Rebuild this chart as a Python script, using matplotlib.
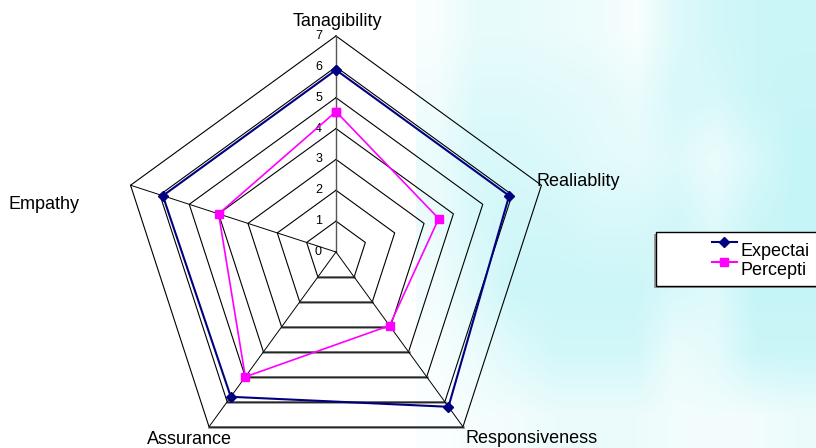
import numpy as np
import matplotlib
matplotlib.use("Agg")
import matplotlib.pyplot as plt
from matplotlib.colors import LinearSegmentedColormap
from matplotlib.lines import Line2D
from matplotlib.patches import Rectangle

categories = ["Tanagibility", "Realiablity", "Responsiveness", "Assurance", "Empathy"]
expectation = [5.9, 5.9, 6.2, 5.8, 5.9]
perception = [4.55, 3.5, 2.95, 5.0, 4.0]
ring_levels = [1, 2, 3, 4, 5, 6, 7]
tick_labels = ["0", "1", "2", "3", "4", "5", "6", "7"]
legend_labels = ["Expectai", "Percepti"]   # as visible (legend runs off the edge)

# coarse cyan wash behind the right half (0 = white, 1 = full cyan)
bg_shade = np.array([
    [0.10, 0.35, 0.35, 0.30, 0.25, 0.10, 0.50, 0.70, 0.80, 0.80],
    [0.20, 0.50, 0.50, 0.45, 0.40, 0.30, 0.60, 0.60, 0.80, 0.85],
    [0.30, 0.60, 0.60, 0.55, 0.45, 0.40, 0.50, 0.30, 0.60, 0.90],
    [0.30, 0.60, 0.70, 0.70, 0.60, 0.60, 0.70, 0.50, 0.80, 0.90],
    [0.20, 0.50, 0.80, 0.80, 0.80, 0.80, 0.60, 0.50, 0.90, 0.90],
    [0.10, 0.30, 0.50, 0.70, 0.70, 0.70, 0.30, 0.40, 0.80, 0.80],
    [0.05, 0.15, 0.20, 0.30, 0.30, 0.30, 0.20, 0.20, 0.20, 0.30],
])

W, H = 816, 448
CX, CY = 336, 252      # chart centre, pixels from top-left
PX = 30.86             # pixels per unit

plt.rcParams["font.family"] = ["Liberation Sans", "DejaVu Sans"]

fig = plt.figure(figsize=(W / 100, H / 100), dpi=100)
fig.patch.set_facecolor("white")

bg = fig.add_axes([0, 0, 1, 1], zorder=0)
bg.set_xlim(0, W)
bg.set_ylim(H, 0)
bg.axis("off")
cmap = LinearSegmentedColormap.from_list("wash", ["#ffffff", "#bff4f6"])
bg.imshow(bg_shade, cmap=cmap, vmin=0, vmax=1, extent=(416, W, H, 0),
          interpolation="bilinear", aspect="auto")

ax = fig.add_axes([0, 0, 1, 1], zorder=1)
ax.set_xlim(-CX / PX, (W - CX) / PX)
ax.set_ylim(-(H - CY) / PX, CY / PX)
ax.axis("off")
ax.patch.set_alpha(0)

n = len(categories)
ang = np.deg2rad(90 - 72 * np.arange(n))
ang_closed = np.append(ang, ang[0])

# rings
for r in ring_levels:
    xs = r * np.cos(ang_closed)
    ys = r * np.sin(ang_closed)
    ax.plot(xs, ys, color="black", lw=0.8, zorder=2)
    # bottom edge (Responsiveness -> Assurance) rendered doubled/grey
    ax.plot(xs[2:4], ys[2:4], color="#808080", lw=1.8, zorder=2)
    ax.plot(xs[2:4], ys[2:4], color="black", lw=0.5, zorder=2)

# spokes (Realiablity spoke not drawn in the original)
for i in [0, 2, 3, 4]:
    top = ring_levels[-1]
    ax.plot([0, top * np.cos(ang[i])], [0, top * np.sin(ang[i])],
            color="#555555" if i == 0 else "black",
            lw=1.0 if i == 0 else 0.7, zorder=2)

for lvl, lab in enumerate(tick_labels):
    ax.text(-14 / PX, lvl, lab, ha="right", va="center", fontsize=9, zorder=3)

exp_c = np.append(expectation, expectation[0])
per_c = np.append(perception, perception[0])
ax.plot(exp_c * np.cos(ang_closed), exp_c * np.sin(ang_closed),
        color="#000080", lw=1.5, marker="D", ms=5, zorder=4)
ax.plot(per_c * np.cos(ang_closed), per_c * np.sin(ang_closed),
        color="#ff00ff", lw=1.2, marker="s", ms=6, zorder=4)


def px(x, y):
    """pixel position (from top-left) -> data units"""
    return (x - CX) / PX, (CY - y) / PX


label_pos = [
    (337, 26, "center"),
    (537, 186, "left"),
    (466, 443, "left"),
    (147, 444, "left"),
    (9, 209, "left"),
]
for name, (lx, ly, ha) in zip(categories, label_pos):
    ax.text(*px(lx, ly), name, ha=ha, va="baseline", fontsize=13, zorder=3)

# legend box (runs off the right edge as in the original)
lx0, ly0, ly1 = 656, 232, 286
ax.add_patch(Rectangle(px(lx0 - 1.5, ly1 + 1.5), 200 / PX, (ly1 - ly0) / PX,
                       facecolor="#9a9a9a", edgecolor="none", zorder=5))
ax.add_patch(Rectangle(px(lx0, ly1), 200 / PX, (ly1 - ly0) / PX,
                       facecolor="white", edgecolor="black", lw=1.0, zorder=6))
for row, (lab, col, mk, ms) in enumerate(zip(
        legend_labels, ["#000080", "#ff00ff"], ["D", "s"], [5, 6])):
    yl = 242.5 + 19.5 * row
    ax.add_line(Line2D([px(712, 0)[0], px(737, 0)[0]], [px(0, yl)[1]] * 2,
                       color=col, lw=1.5, zorder=7))
    ax.plot(*px(724.5, yl), marker=mk, ms=ms, color=col, zorder=7)
    ax.text(*px(741, yl + 13), lab, ha="left", va="baseline",
            fontsize=13, zorder=7)

fig.savefig("out.png", dpi=100)
